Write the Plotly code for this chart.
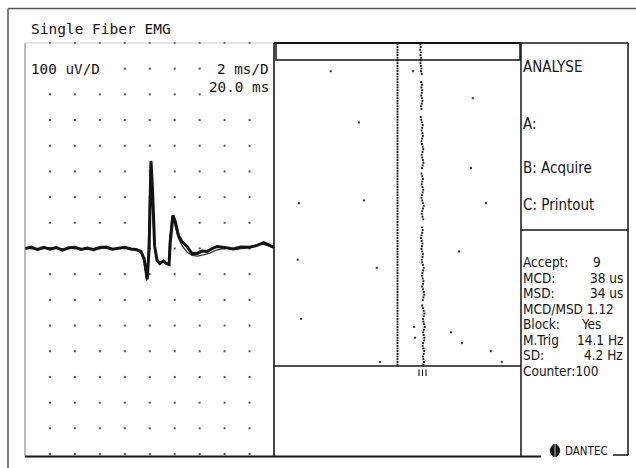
import plotly.graph_objects as go

W, H = 636, 468

# ---------------- EMG sweep (time in ms, amplitude in uV) ----------------
trace_a_ms = [0.0, 0.5, 1.0, 1.5, 2.0, 2.5, 3.0, 3.5, 4.0, 4.5, 5.0, 5.5, 6.0, 6.5,
              7.0, 7.5, 8.0, 8.5, 8.97, 9.3, 9.55, 9.8, 9.95, 10.1, 10.22, 10.39,
              10.58, 10.8, 11.1, 11.3, 11.55, 11.65, 11.86, 12.05, 12.3, 12.58,
              12.98, 13.38, 13.8, 14.2, 14.6, 15.0, 15.4, 16.0, 16.7, 17.3, 18.0,
              18.6, 19.14, 19.5, 19.95]
trace_a_uv = [0, 6, -4, 5, -3, 4, -6, 3, 5, -4, 2, -5, 4, 6,
              -3, 2, 5, -2, -5, -12, -40, -120, 0, 341, 232, 10,
              -45, -58, -48, -58, -62, 27, 129, 104, 51, 27,
              8, -19, -19, -10, -12, 0, 8, 4, -2, 6, 5,
              12, 23, 15, 4]

trace_b_ms = [0.0, 1.0, 2.0, 3.0, 4.0, 5.0, 6.0, 7.0, 8.0, 8.9, 9.3, 9.55, 9.75,
              9.88, 10.05, 10.18, 10.35, 10.55, 10.8, 11.1, 11.35, 11.5, 11.58,
              11.78, 12.0, 12.3, 12.6, 13.0, 13.4, 13.8, 14.3, 14.8, 15.4, 16.2,
              17.0, 18.0, 19.0, 20.0]
trace_b_uv = [2, -3, 3, -2, 2, -3, 3, -2, 2, -4, -15, -50, -125,
              -10, 330, 240, 20, -40, -55, -52, -60, -64, 30,
              125, 95, 40, 10, -15, -27, -30, -25, -18, -5, 2,
              -3, 6, 18, 2]

# ---------------- raster (latency in us relative to trigger, sweep no.) ---
n_sweeps = 120
trigger_latency_us = 0
second_latency_us = [186, 188, 184, 190, 186, 192, 188, 186, 190, 194,
                     190, 196, None, None, 192, 198, 194, 200, 196, 192,
                     198, 202, 196, 190, 194, None, None, 188, 192, 198,
                     204, 200, 196, 202, 206, 200, 194, 198, 204, 208,
                     202, 196, 200, 206, 210, 204, 198, None, 194, 200,
                     206, 200, 196, 202, 208, 204, 198, 194, 200, 206,
                     212, 206, 200, 196, 202, 208, None, None, 198, 204,
                     200, 194, 190, 196, 202, 198, 194, 200, 206, 202,
                     196, 200, 206, 212, 208, 202, 198, 204, 210, 206,
                     200, 206, 212, 216, 210, 204, None, 200, 206, 212,
                     218, 212, 206, 210, 216, 220, 214, 208, 212, 218,
                     214, 208, 204, 210, 216, 212, 206, 210, 214, 210]
noise_us = [-541, 126, 609, -312, 595, -798, -271, 717, 498, -808, -168,
            -781, 134, 142, 433, 522, 755, -142, 844]
noise_sweep = [11, 11, 21, 30, 47, 60, 59, 60, 78, 81, 84,
               103, 106, 110, 108, 112, 115, 119, 119]

# ---------------- texts ----------------
title_text = "Single Fiber EMG"
gain_text = "100 uV/D"
sweep_text = "2 ms/D"
delay_text = "20.0 ms"
menu_items = ["ANALYSE", "A:", "B: Acquire", "C: Printout"]
stat_labels = ["Accept:", "MCD:", "MSD:", "MCD/MSD 1.12", "Block:", "M.Trig", "SD:", "Counter:100"]
stat_values = ["9", "38 us", "34 us", "", "Yes", "14.1 Hz", "4.2 Hz", ""]
brand_text = "DANTEC"

MONO = "DejaVu Sans Mono"
NARROW = "DejaVu Sans Condensed, DejaVu Sans"
INK = "#141414"

fig = go.Figure()

# grid dots of the EMG screen (one per division: 2 ms x 100 uV)
gx, gy = [], []
for k in range(1, 10):
    for j in range(-8, 8):
        t, a = 2 * k, 100 * j
        if j == 7 and (k <= 3 or k >= 8):
            continue
        if j == 6 and k >= 8:
            continue
        gx.append(t)
        gy.append(a)
for k in range(1, 10):
    gx.append(2 * k)
    gy.append(800)
fig.add_trace(go.Scatter(x=gx, y=gy, mode="markers", xaxis="x", yaxis="y",
                         marker=dict(size=2, color="#555", symbol="square"),
                         hoverinfo="skip", cliponaxis=False))

fig.add_trace(go.Scatter(x=trace_b_ms, y=trace_b_uv, mode="lines", xaxis="x", yaxis="y",
                         line=dict(color="#333", width=1.3), hoverinfo="skip"))
fig.add_trace(go.Scatter(x=trace_a_ms, y=trace_a_uv, mode="lines", xaxis="x", yaxis="y",
                         line=dict(color=INK, width=3), hoverinfo="skip"))

# raster
sweeps = list(range(1, n_sweeps + 1))
fig.add_trace(go.Scatter(x=[trigger_latency_us] * n_sweeps, y=sweeps, mode="markers",
                         xaxis="x2", yaxis="y2",
                         marker=dict(size=1.9, color=INK, symbol="square"), hoverinfo="skip"))
fig.add_trace(go.Scatter(x=second_latency_us, y=sweeps, mode="markers",
                         xaxis="x2", yaxis="y2",
                         marker=dict(size=1.9, color=INK, symbol="square"), hoverinfo="skip"))
fig.add_trace(go.Scatter(x=noise_us, y=noise_sweep, mode="markers",
                         xaxis="x2", yaxis="y2",
                         marker=dict(size=2.0, color="#333", symbol="square"), hoverinfo="skip"))

# canvas helper trace (keeps the full-page pixel axes alive)
fig.add_trace(go.Scatter(x=[0], y=[0], mode="markers", xaxis="x3", yaxis="y3",
                         marker=dict(size=1, color="rgba(0,0,0,0)"), hoverinfo="skip"))


def px_x(v):
    return v / W


def px_y(v):
    return 1 - v / H


hidden = dict(visible=False, showgrid=False, zeroline=False, fixedrange=True)
fig.update_layout(
    width=W, height=H, autosize=False,
    margin=dict(l=0, r=0, t=0, b=0, pad=0),
    paper_bgcolor="white", plot_bgcolor="rgba(0,0,0,0)",
    showlegend=False,
    xaxis=dict(domain=[px_x(25), px_x(274.5)], range=[0, 20], anchor="y", **hidden),
    yaxis=dict(domain=[px_y(454), px_y(43)], range=[-800, 800], anchor="x", **hidden),
    xaxis2=dict(domain=[px_x(274), px_x(521)], range=[-1000, 1000], anchor="y2", **hidden),
    yaxis2=dict(domain=[px_y(366), px_y(43)], range=[n_sweeps + 0.5, 0.5], anchor="x2", **hidden),
    xaxis3=dict(domain=[0, 1], range=[0, W], anchor="y3", **hidden),
    yaxis3=dict(domain=[0, 1], range=[H, 0], anchor="x3", **hidden),
)

shapes = []


def line(x0, y0, x1, y1, w=1.5, c=INK):
    shapes.append(dict(type="line", xref="x3", yref="y3", x0=x0, y0=y0, x1=x1, y1=y1,
                       line=dict(color=c, width=w), layer="above"))


# outer page frame (top + left)
line(8, 8.5, W, 8.5, 1.5, "#555")
line(8, 8.5, 8, H, 1.5, "#555")
# EMG screen
line(25, 43, 25, 457, 1, "#777")
line(25, 43, 274, 43, 0.8, "#bbb")
line(274, 43, 274, 457, 1.6)
line(25, 456.5, 541, 456.5, 2.2)
# raster panel
line(274, 43, 521, 43, 2)
shapes.append(dict(type="rect", xref="x3", yref="y3", x0=276, y0=43, x1=520, y1=60,
                   line=dict(color=INK, width=1.5), layer="above"))
line(274, 366, 521, 366, 1.6)
for tx in (419, 422.5, 426):
    line(tx, 369.5, tx, 376, 1.1)
# menu panel
line(521, 43, 521, 456, 1.5)
line(521, 43, 628, 43, 1.5)
line(628, 43, 628, 455, 1.5)
line(521, 230, 628, 230, 1.5)
line(613, 455, 628, 455, 1.5)
# brand logo
shapes.append(dict(type="path", xref="x3", yref="y3",
                   path="M 554.2 444 Q 546 450.5 554.2 457 Z",
                   fillcolor=INK, line=dict(color=INK, width=0.8), layer="above"))
shapes.append(dict(type="path", xref="x3", yref="y3",
                   path="M 555.8 444 Q 564 450.5 555.8 457 Z",
                   fillcolor=INK, line=dict(color=INK, width=0.8), layer="above"))
fig.update_layout(shapes=shapes)

ann = []


def text(s, x, y, family, size, anchor="left"):
    ann.append(dict(text=s, x=x, y=y, xref="x3", yref="y3", xanchor=anchor, yanchor="middle",
                    showarrow=False, font=dict(family=family, size=size, color=INK),
                    borderpad=0, borderwidth=0))


text(title_text, 31, 28.5, MONO, 14.5)
text(gain_text, 31, 69, MONO, 14.3)
text(sweep_text, 269, 69, MONO, 14.3, "right")
text(delay_text, 269, 87, MONO, 14.3, "right")

menu_y = [67, 124, 168, 205]
for s, yv in zip(menu_items, menu_y):
    text(s, 523, yv, NARROW, 15)

stat_y = [261.5, 277.5, 293, 309, 324, 339.5, 355, 370.5]
stat_right = [601, 623, 623, None, 601, 623, 623, None]
for lab, val, yv, xr in zip(stat_labels, stat_values, stat_y, stat_right):
    text(lab, 523, yv, NARROW, 13.5)
    if val:
        text(val, xr, yv, NARROW, 13.5, "right")

text(brand_text, 565, 450.5, NARROW, 11.5)
fig.update_layout(annotations=ann)

fig.write_html("out.html")
